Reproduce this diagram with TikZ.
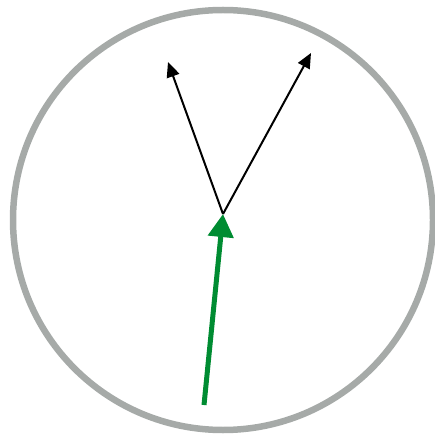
\documentclass[tikz,border=0pt]{standalone}
\usepackage{xcolor}
\usepackage{tikz}
\usetikzlibrary{arrows.meta}

\definecolor{rimgray}{RGB}{166,170,168}
\definecolor{stemgreen}{RGB}{0,140,50}

\begin{document}
\begin{tikzpicture}[
    x=0.02cm, y=-0.02cm,
    rim/.style={draw=rimgray, line width=0.13cm},
    inarrow/.style={draw=stemgreen, line width=0.1cm, -{Triangle[length=0.46cm, width=0.5cm]}},
    outarrow/.style={draw=black, line width=0.04cm, -{Triangle[length=0.3cm, width=0.26cm]}},
]
\useasboundingbox (0,0) rectangle (435,435);

% Points
\coordinate (center) at (223,220);
\coordinate (start) at (204,405);
\coordinate (split) at (223,214);
\coordinate (left) at (168,62);
\coordinate (right) at (311,53);

% Circle
\draw[rim] (center) circle [radius=210];

% Arrows
\draw[outarrow] (split) -- (left);
\draw[outarrow] (split) -- (right);
\draw[inarrow] (start) -- (split);

\end{tikzpicture}
\end{document}
